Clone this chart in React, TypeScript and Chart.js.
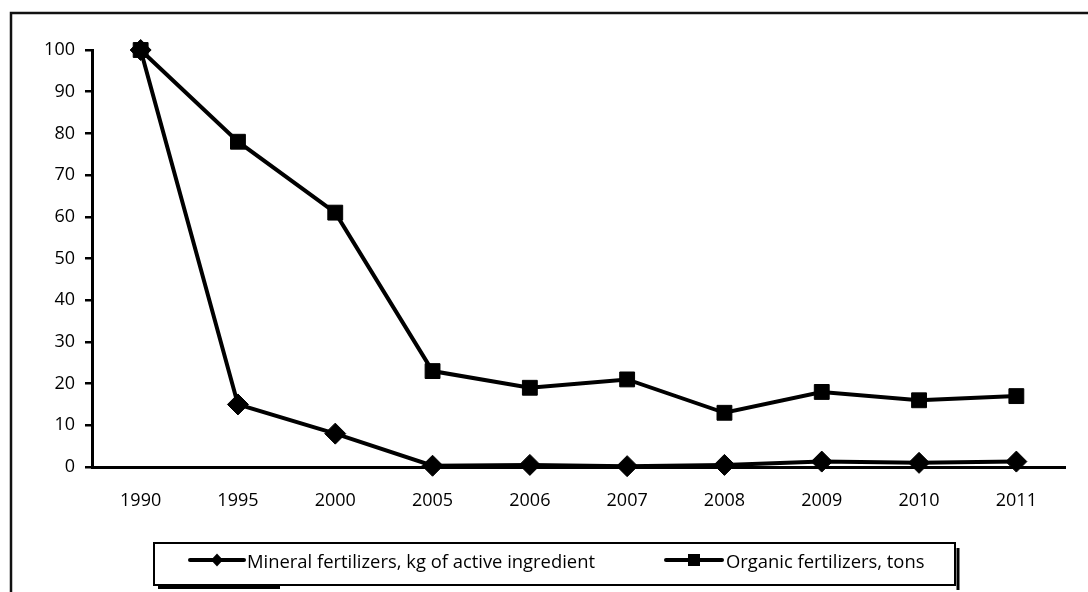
import React, { useEffect, useRef } from 'react';
import { Chart, registerables } from 'chart.js';

Chart.register(...registerables);

const years = ['1990', '1995', '2000', '2005', '2006', '2007', '2008', '2009', '2010', '2011'];
const mineral = [100, 15, 8, 0.3, 0.5, 0.2, 0.5, 1.3, 1.0, 1.3];
const organic = [100, 78, 61, 23, 19, 21, 13, 18, 16, 17];
const seriesLabels = ['Mineral fertilizers, kg of active ingredient', 'Organic fertilizers, tons'];
const yMin = 0;
const yMax = 100;
const yStep = 10;

const FONT = '"Open Sans"';

// legend layout (style only)
const LEG = { left: 154, top: 543, right: 955, bottom: 585, iconY: 560, textY: 568 };
const LEG_ITEMS = [
  { lineFrom: 190, lineTo: 244, markerX: 217, textX: 247, marker: 'diamond' },
  { lineFrom: 666, lineTo: 722, markerX: 694, textX: 726, marker: 'square' },
];

const framePlugin = {
  id: 'frame',
  beforeDraw(chart: any) {
    const ctx = chart.ctx;
    ctx.save();
    ctx.fillStyle = '#fff';
    ctx.fillRect(0, 0, chart.width, chart.height);
    ctx.strokeStyle = '#111';
    ctx.lineWidth = 2.5;
    ctx.strokeRect(11, 13, chart.width + 50, chart.height + 50);
    ctx.restore();
  },
  afterDraw(chart: any) {
    const ctx = chart.ctx;
    ctx.save();
    ctx.strokeStyle = '#000';
    ctx.lineWidth = 2;
    ctx.strokeRect(LEG.left, LEG.top, LEG.right - LEG.left, LEG.bottom - LEG.top);
    ctx.lineWidth = 3;
    ctx.beginPath();
    ctx.moveTo(LEG.right + 3, LEG.top + 5);
    ctx.lineTo(LEG.right + 3, LEG.bottom + 5);
    ctx.moveTo(LEG.left + 4, LEG.bottom + 2.5);
    ctx.lineTo(LEG.left + 126, LEG.bottom + 2.5);
    ctx.stroke();

    chart.data.datasets.forEach((ds: any, i: number) => {
      const it = LEG_ITEMS[i];
      if (!it) return;
      ctx.strokeStyle = '#000';
      ctx.fillStyle = '#000';
      ctx.lineWidth = 4;
      ctx.lineCap = 'round';
      ctx.beginPath();
      ctx.moveTo(it.lineFrom, LEG.iconY);
      ctx.lineTo(it.lineTo, LEG.iconY);
      ctx.stroke();
      ctx.beginPath();
      if (it.marker === 'diamond') {
        ctx.moveTo(it.markerX, LEG.iconY - 6.5);
        ctx.lineTo(it.markerX + 6, LEG.iconY);
        ctx.lineTo(it.markerX, LEG.iconY + 6.5);
        ctx.lineTo(it.markerX - 6, LEG.iconY);
        ctx.closePath();
      } else {
        ctx.rect(it.markerX - 6, LEG.iconY - 6, 12, 12);
      }
      ctx.fill();
      ctx.font = `18.4px ${FONT}`;
      ctx.textBaseline = 'alphabetic';
      ctx.textAlign = 'left';
      ctx.fillText(ds.label, it.textX, LEG.textY);
    });
    ctx.restore();
  },
};

export default function App() {
  const ref = useRef<HTMLCanvasElement | null>(null);
  useEffect(() => {
    document.body.style.margin = '0';
    document.body.style.overflow = 'hidden';
    const common = {
      borderColor: '#000',
      backgroundColor: '#000',
      borderWidth: 4,
      pointRadius: 10.5,
      pointBorderWidth: 1,
      pointBackgroundColor: '#000',
      pointBorderColor: '#000',
      tension: 0,
      clip: false as any,
    };
    const chart = new Chart(ref.current!, {
      type: 'line',
      data: {
        labels: years,
        datasets: [
          { ...common, label: seriesLabels[0], data: mineral, pointStyle: 'rectRot' },
          { ...common, label: seriesLabels[1], data: organic, pointStyle: 'rect' },
        ],
      },
      options: {
        animation: false,
        responsive: true,
        maintainAspectRatio: false,
        layout: { padding: { left: 0, right: 23, top: 50, bottom: 0 } },
        plugins: {
          tooltip: { enabled: false },
          legend: { display: false },
        },
        scales: {
          x: {
            offset: true,
            afterFit: (s: any) => {
              s.height = 125;
            },
            grid: { display: true, drawOnChartArea: false, drawTicks: false },
            border: { display: true, color: '#000', width: 3 },
            ticks: { color: '#000', font: { family: FONT, size: 18 }, padding: 23, maxRotation: 0, autoSkip: false },
          },
          y: {
            min: yMin,
            max: yMax,
            afterFit: (s: any) => {
              s.width = 92;
            },
            grid: { display: true, drawOnChartArea: false, drawTicks: true, tickLength: 7, color: '#000', lineWidth: 2.5 },
            border: { display: true, color: '#000', width: 3 },
            ticks: { color: '#000', font: { family: FONT, size: 18 }, padding: 10, stepSize: yStep },
          },
        },
      },
      plugins: [framePlugin],
    });
    return () => chart.destroy();
  }, []);
  return (
    <div style={{ position: 'relative', width: 1088, height: 592 }}>
      <canvas ref={ref} />
    </div>
  );
}
